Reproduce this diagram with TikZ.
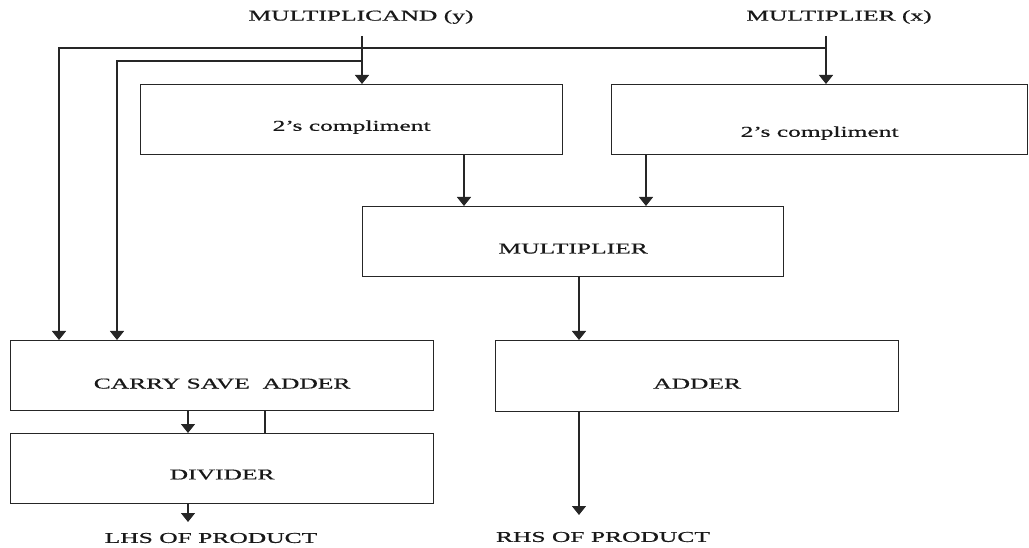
\documentclass[tikz,border=0pt]{standalone}
\usepackage{fontspec}
\newfontfamily\widefont[FakeStretch=1.7, FakeBold=0.6]{Liberation Serif}
\usetikzlibrary{positioning,arrows.meta}

\begin{document}
\begin{tikzpicture}[x=1pt, y=-1pt,
    blk/.style={rectangle, draw=black!85, line width=1.3pt, inner sep=0pt,
        anchor=north west, minimum height=70pt},
    lbl/.style={font=\widefont\fontsize{15}{18}\selectfont, text=black!90, inner sep=0pt},
    wire/.style={line width=1.3pt, draw=black!85},
    >={Triangle[width=14pt,length=9pt]}
]
\useasboundingbox (0,0) rectangle (1029,548);

\node [lbl] (mcand) at (361,17) {MULTIPLICAND (y)};
\node [lbl] (mplier) at (839,17) {MULTIPLIER (x)};

\node [blk, minimum width=422pt, label={[lbl, yshift=-7.5pt]center:2’s compliment}] (comp_y) at (140,84) {};
\node [blk, minimum width=416pt, label={[lbl, yshift=-13.5pt]center:2’s compliment}] (comp_x) at (611,84) {};
\node [blk, minimum width=421pt, label={[lbl, yshift=-7pt]center:MULTIPLIER}] (mult) at (362,206) {};
\node [blk, minimum width=423pt, label={[lbl, yshift=-8pt]center:CARRY SAVE\ \ ADDER}] (csa) at (10,340) {};
\node [blk, minimum width=423pt, label={[lbl, yshift=-6pt]center:DIVIDER}] (div) at (10,433) {};
\node [blk, minimum width=403pt, minimum height=71pt, label={[lbl, yshift=-7.5pt]center:ADDER}] (add) at (495,340) {};

\node [lbl] (lhs) at (211,538) {LHS OF PRODUCT};
\node [lbl] (rhs) at (603,537) {RHS OF PRODUCT};

\coordinate (ytop) at (362,36);
\coordinate (xtop) at (826,36);
\coordinate (ybus) at (362,61);
\coordinate (xbus) at (826,48);
\coordinate (lhsin) at (188,522);
\coordinate (rhsin) at (579,515);

\draw [wire, ->] (ytop) -- (ytop |- comp_y.north);
\draw [wire, ->] (xtop) -- (xtop |- comp_x.north);
\draw [wire, ->] (xbus) -| ([xshift=49pt]csa.north west);
\draw [wire, ->] (ybus) -| ([xshift=107pt]csa.north west);
\draw [wire, ->] ([xshift=324pt]comp_y.south west) -- ([xshift=324pt]comp_y.south west |- mult.north);
\draw [wire, ->] ([xshift=35pt]comp_x.south west) -- ([xshift=35pt]comp_x.south west |- mult.north);
\draw [wire, ->] ([xshift=217pt]mult.south west) -- ([xshift=217pt]mult.south west |- add.north);
\draw [wire, ->] ([xshift=84pt]add.south west) -- (rhsin);
\draw [wire, ->] ([xshift=178pt]csa.south west) -- ([xshift=178pt]div.north west);
\draw [wire] ([xshift=255pt]csa.south west) -- ([xshift=255pt]div.north west);
\draw [wire, ->] ([xshift=178pt]div.south west) -- (lhsin);

\end{tikzpicture}
\end{document}
